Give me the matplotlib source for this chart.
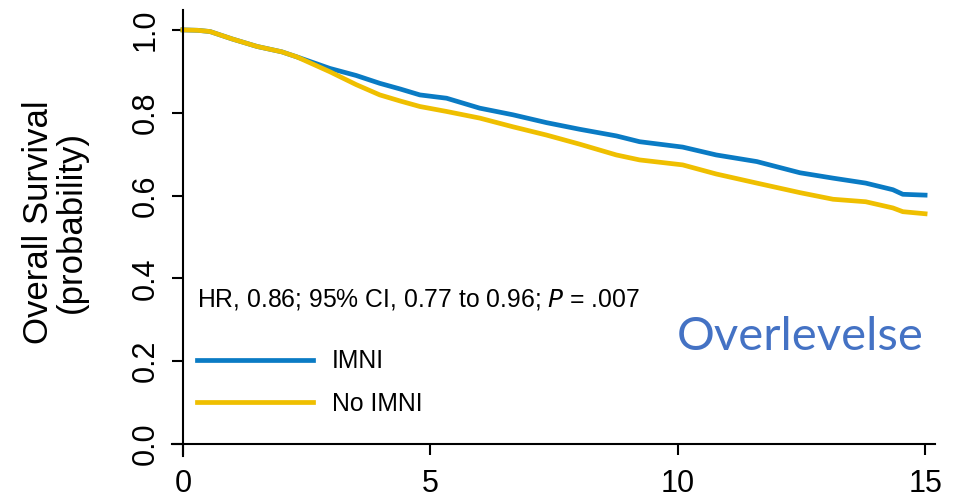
import matplotlib
matplotlib.use('Agg')
import matplotlib.pyplot as plt

plt.rcParams['font.family'] = ['Liberation Sans', 'DejaVu Sans']

# years and survival probability
years = [0, 0.3, 0.55, 1.0, 1.5, 2.0, 2.3, 2.97, 3.5, 3.98, 4.4, 4.79, 5.33, 6.0,
         6.67, 7.35, 8.02, 8.76, 9.23, 10.1, 10.78, 11.6, 12.47, 13.14, 13.8,
         14.35, 14.55, 15.0]
imni = [1.0, 0.999, 0.996, 0.978, 0.96, 0.947, 0.935, 0.907, 0.89, 0.871, 0.857,
        0.843, 0.835, 0.811, 0.795, 0.776, 0.760, 0.744, 0.730, 0.717, 0.698,
        0.682, 0.655, 0.642, 0.630, 0.614, 0.603, 0.601]
no_imni = [1.0, 0.999, 0.996, 0.978, 0.96, 0.947, 0.935, 0.899, 0.868, 0.843,
           0.828, 0.815, 0.803, 0.787, 0.766, 0.746, 0.724, 0.698, 0.686, 0.674,
           0.652, 0.630, 0.607, 0.591, 0.585, 0.570, 0.561, 0.556]

blue = '#0a7bc4'
yellow = '#efbf00'

fig = plt.figure(figsize=(9.65, 5.01), dpi=100)
ax = fig.add_axes([0.1782, 0.089, 0.7907, 0.891])

ax.plot(years, imni, color=blue, lw=3.4, label='IMNI')
ax.plot(years, no_imni, color=yellow, lw=3.4, label='No IMNI')

ax.set_xlim(-0.22, 15.2)
ax.set_ylim(-0.03, 1.048)
ax.spines['left'].set_position(('data', 0))
ax.spines['bottom'].set_position(('data', 0))
ax.spines['right'].set_visible(False)
ax.spines['top'].set_visible(False)
for s in ['left', 'bottom']:
    ax.spines[s].set_linewidth(1.5)

ax.set_xticks([0, 5, 10, 15])
ax.set_yticks([0, 0.2, 0.4, 0.6, 0.8, 1.0])
ax.set_yticklabels(['0.0', '0.2', '0.4', '0.6', '0.8', '1.0'])
ax.tick_params(axis='both', direction='out', length=8, width=1.5, labelsize=22)
ax.tick_params(axis='y', labelrotation=90, pad=8)
ax.tick_params(axis='x', pad=10)
for lbl in ax.get_yticklabels():
    lbl.set_va('center')

fig.text(0.057, 0.557, 'Overall Survival\n(probability)', rotation=90,
         ha='center', va='center', fontsize=25, linespacing=1.0)

ax.text(0.28, 0.348, 'HR, 0.86; 95% CI, 0.77 to 0.96; $\\it{P}$ = .007',
        fontsize=17.8, va='center', ha='left')

leg = ax.legend(loc='center left', bbox_to_anchor=(0.0328, 0.165), frameon=False,
                fontsize=17.8, handlelength=4.7, handletextpad=0.75,
                labelspacing=0.75, borderpad=0, borderaxespad=0)

fig.text(677 / 965, 1 - 337 / 501, 'Overlevelse', color='#4472c4',
         fontsize=34, family=['Lato', 'DejaVu Sans'], ha='left', va='center')

fig.savefig('out.png', dpi=100)
